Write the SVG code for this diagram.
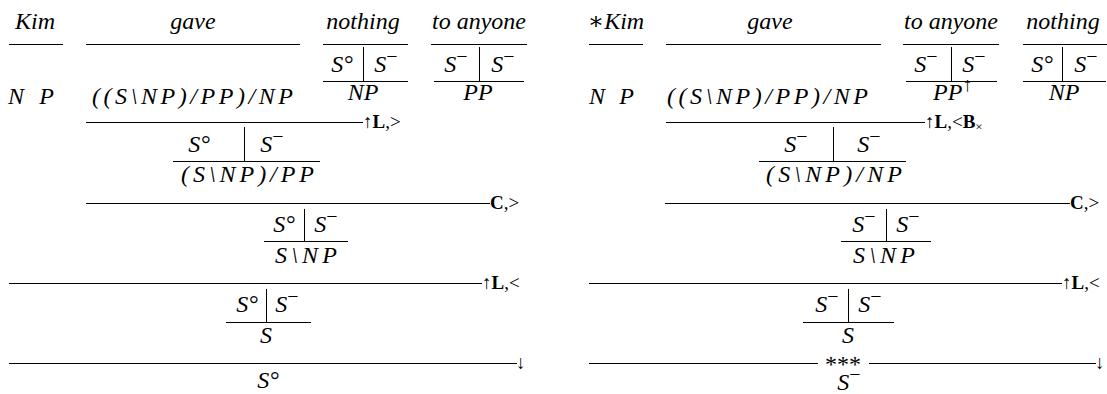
<svg xmlns="http://www.w3.org/2000/svg" width="1107" height="394" viewBox="0 0 1107 394">
<style>
text { font-family: "Liberation Serif", "DejaVu Serif", serif; fill: #000; }
.w { font-size: 24px; font-style: italic; text-anchor: middle; }
.m { font-size: 24px; font-style: italic; }
.c { text-anchor: middle; }
.sup { font-size: 20px; font-style: normal; }
.lab { font-size: 19px; }
.b { font-weight: bold; }
line { stroke: #000; stroke-width: 1; }
.ast { font-size: 24px; text-anchor: middle; }
</style>
<rect width="1107" height="394" fill="#fff"/>

<!-- LEFT DERIVATION -->
<g id="l-kim">
  <text class="w" x="35" y="29">Kim</text>
  <line x1="9" y1="44.5" x2="63" y2="44.5"/>
  <text class="m" x="8" y="104" textLength="46" lengthAdjust="spacing">NP</text>
</g>
<g id="l-gave">
  <text class="w" x="193" y="29">gave</text>
  <line x1="86" y1="44.5" x2="300" y2="44.5"/>
  <text class="m" x="92" y="104" textLength="201" lengthAdjust="spacing">((S\NP)/PP)/NP</text>
</g>
<g id="l-nothing">
  <text class="w" x="363" y="29">nothing</text>
  <line x1="323" y1="44.5" x2="408" y2="44.5"/>
  <text class="m c" x="342" y="72">S°</text>
  <text class="m c" x="386" y="72">S<tspan class="sup" dy="-9">−</tspan></text>
  <line x1="363.5" y1="47" x2="363.5" y2="81"/>
  <line x1="323" y1="81.5" x2="408" y2="81.5"/>
  <text class="m c" x="363" y="100">NP</text>
</g>
<g id="l-toanyone">
  <text class="w" x="479" y="29">to anyone</text>
  <line x1="431" y1="44.5" x2="527" y2="44.5"/>
  <text class="m c" x="456" y="72">S<tspan class="sup" dy="-9">−</tspan></text>
  <text class="m c" x="503" y="72">S<tspan class="sup" dy="-9">−</tspan></text>
  <line x1="479.5" y1="47" x2="479.5" y2="81"/>
  <line x1="434" y1="81.5" x2="524" y2="81.5"/>
  <text class="m c" x="478" y="100">PP</text>
</g>
<g id="l-n1">
  <text class="m c" x="199" y="152">S°</text>
  <text class="m c" x="272" y="152">S<tspan class="sup" dy="-9">−</tspan></text>
  <line x1="244.5" y1="127" x2="244.5" y2="161"/>
  <line x1="173" y1="161.5" x2="320" y2="161.5"/>
  <text class="m" x="181" y="182" textLength="133" lengthAdjust="spacing">(S\NP)/PP</text>
</g>
<g id="l-n2">
  <text class="m c" x="284" y="232">S°</text>
  <text class="m c" x="326" y="232">S<tspan class="sup" dy="-9">−</tspan></text>
  <line x1="304.5" y1="209" x2="304.5" y2="241"/>
  <line x1="264" y1="241.5" x2="348" y2="241.5"/>
  <text class="m" x="275" y="263" textLength="62" lengthAdjust="spacing">S\NP</text>
</g>
<g id="l-n3">
  <text class="m c" x="247" y="312">S°</text>
  <text class="m c" x="287" y="312">S<tspan class="sup" dy="-9">−</tspan></text>
  <line x1="266.5" y1="289" x2="266.5" y2="322"/>
  <line x1="226" y1="322.5" x2="311" y2="322.5"/>
  <text class="m c" x="266" y="343">S</text>
</g>
<g id="l-n4">
  <text class="m c" x="268" y="388">S°</text>
</g>

<!-- RIGHT DERIVATION -->
<g id="r-kim">
  <text class="w" x="616" y="29"><tspan style="font-style:normal">∗</tspan>Kim</text>
  <line x1="589" y1="44.5" x2="643" y2="44.5"/>
  <text class="m" x="589" y="104" textLength="45" lengthAdjust="spacing">NP</text>
</g>
<g id="r-gave">
  <text class="w" x="770" y="29">gave</text>
  <line x1="666" y1="44.5" x2="881" y2="44.5"/>
  <text class="m" x="667" y="104" textLength="201" lengthAdjust="spacing">((S\NP)/PP)/NP</text>
</g>
<g id="r-toanyone">
  <text class="w" x="951" y="29">to anyone</text>
  <line x1="903" y1="44.5" x2="999" y2="44.5"/>
  <text class="m c" x="926" y="72">S<tspan class="sup" dy="-9">−</tspan></text>
  <text class="m c" x="974" y="72">S<tspan class="sup" dy="-9">−</tspan></text>
  <line x1="951.5" y1="47" x2="951.5" y2="81"/>
  <line x1="906" y1="81.5" x2="997" y2="81.5"/>
  <text class="m" x="933" y="100">PP<tspan class="sup" font-size="16" dy="-9">↑</tspan></text>
</g>
<g id="r-nothing">
  <text class="w" x="1063" y="29">nothing</text>
  <line x1="1023" y1="44.5" x2="1107" y2="44.5"/>
  <text class="m c" x="1042" y="72">S°</text>
  <text class="m c" x="1086" y="72">S<tspan class="sup" dy="-9">−</tspan></text>
  <line x1="1062.5" y1="47" x2="1062.5" y2="81"/>
  <line x1="1023" y1="81.5" x2="1106" y2="81.5"/>
  <text class="m c" x="1064" y="100">NP</text>
</g>
<g id="r-n1">
  <text class="m c" x="796" y="152">S<tspan class="sup" dy="-9">−</tspan></text>
  <text class="m c" x="869" y="152">S<tspan class="sup" dy="-9">−</tspan></text>
  <line x1="833.5" y1="127" x2="833.5" y2="161"/>
  <line x1="759" y1="161.5" x2="906" y2="161.5"/>
  <text class="m" x="766" y="182" textLength="136" lengthAdjust="spacing">(S\NP)/NP</text>
</g>
<g id="r-n2">
  <text class="m c" x="864" y="232">S<tspan class="sup" dy="-9">−</tspan></text>
  <text class="m c" x="908" y="232">S<tspan class="sup" dy="-9">−</tspan></text>
  <line x1="886.5" y1="209" x2="886.5" y2="241"/>
  <line x1="841" y1="241.5" x2="931" y2="241.5"/>
  <text class="m" x="853" y="263" textLength="62" lengthAdjust="spacing">S\NP</text>
</g>
<g id="r-n3">
  <text class="m c" x="827" y="312">S<tspan class="sup" dy="-9">−</tspan></text>
  <text class="m c" x="870" y="312">S<tspan class="sup" dy="-9">−</tspan></text>
  <line x1="848.5" y1="289" x2="848.5" y2="322"/>
  <line x1="803" y1="322.5" x2="894" y2="322.5"/>
  <text class="m c" x="848" y="343">S</text>
</g>
<g id="r-n4">
  <text class="m c" x="849" y="390">S<tspan class="sup" dy="-9">−</tspan></text>
</g>

<!-- CONNECTORS: derivation rules -->
<g id="connectors">
  <line x1="86" y1="122.5" x2="363" y2="122.5"/>
  <text class="lab" x="363" y="128">↑<tspan class="b">L</tspan>,&gt;</text>
  <line x1="86" y1="203.5" x2="490" y2="203.5"/>
  <text class="lab" x="490" y="209"><tspan class="b">C</tspan>,&gt;</text>
  <line x1="9" y1="283.5" x2="482" y2="283.5"/>
  <text class="lab" x="482" y="289">↑<tspan class="b">L</tspan>,&lt;</text>
  <line x1="9" y1="363.5" x2="517" y2="363.5"/>
  <text class="lab" x="516" y="369">↓</text>

  <line x1="666" y1="122.5" x2="925" y2="122.5"/>
  <text class="lab" x="925" y="128">↑<tspan class="b">L</tspan>,&lt;<tspan class="b">B</tspan><tspan font-size="13" dy="3">×</tspan></text>
  <line x1="665" y1="203.5" x2="1070" y2="203.5"/>
  <text class="lab" x="1070" y="209"><tspan class="b">C</tspan>,&gt;</text>
  <line x1="589" y1="283.5" x2="1062" y2="283.5"/>
  <text class="lab" x="1062" y="289">↑<tspan class="b">L</tspan>,&lt;</text>
  <line x1="589" y1="363.5" x2="818" y2="363.5"/>
  <text class="ast" x="843" y="372">***</text>
  <line x1="869" y1="363.5" x2="1096" y2="363.5"/>
  <text class="lab" x="1095" y="369">↓</text>
</g>
</svg>
